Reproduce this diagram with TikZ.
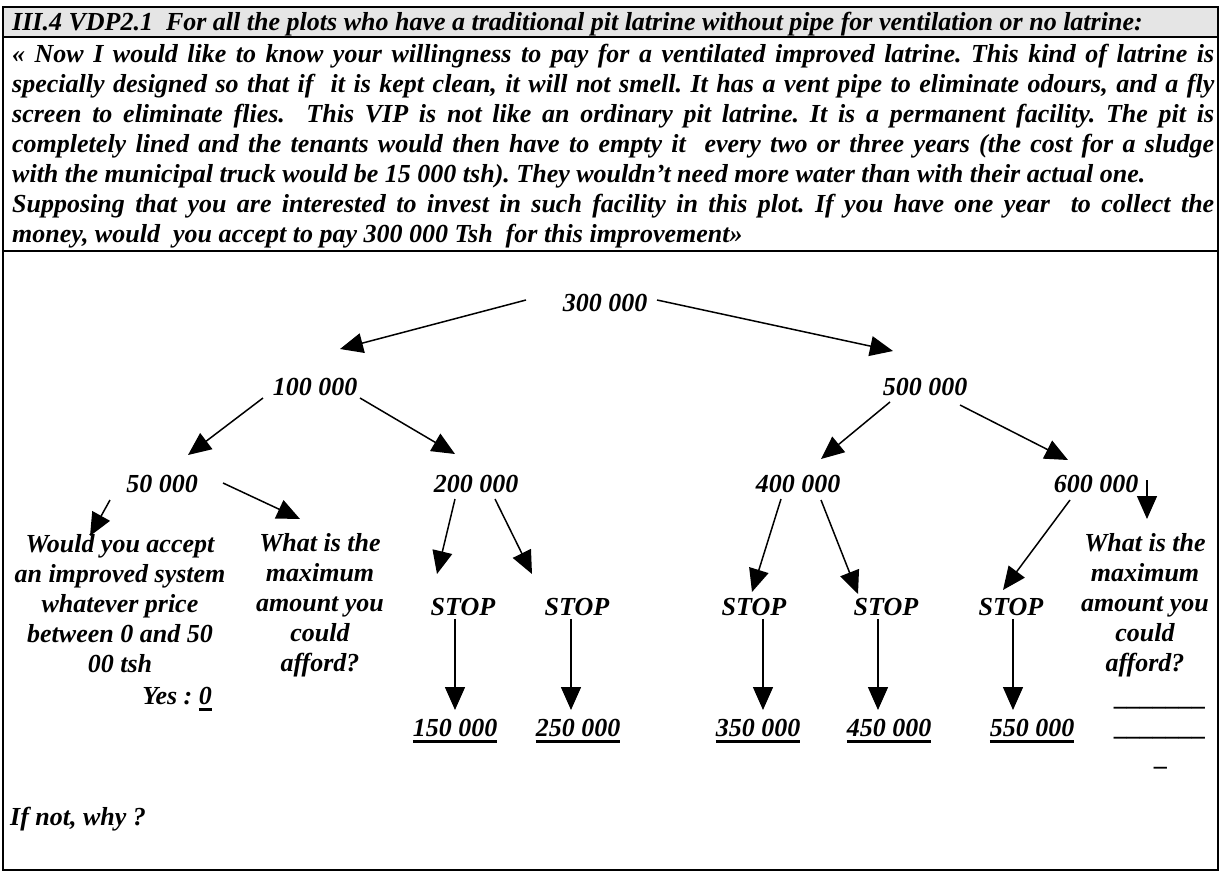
\documentclass[tikz,border=0pt]{standalone}
\usepackage{fontspec}
\setmainfont{Liberation Serif}
\usetikzlibrary{arrows.meta}
\frenchspacing
\newcommand\ulbold[1]{\setbox0\hbox{#1}\rlap{\rule[-7pt]{\wd0}{2.8pt}}\box0}
\begin{document}
\begin{tikzpicture}[x=1pt,y=-1pt,
  font=\fontsize{26}{30}\selectfont\bfseries\itshape,
  hline/.style={anchor=base west,inner sep=0pt},
  lbl/.style={inner sep=0pt,anchor=center},
  blk/.style={inner sep=0pt,anchor=center,align=center},
  arr/.style={line width=1.5pt,-{Triangle[length=23pt,width=20pt]}},
  frame/.style={line width=2pt}]
\useasboundingbox (0,0) rectangle (1221,873);
% header
\fill[black!10] (3,7) rectangle (1218,37);
\draw[frame] (3,7) rectangle (1218,870);
\draw[frame] (3,37) -- (1218,37);
\draw[frame] (3,251) -- (1218,251);
\node[hline] (h0) at (12,30) {III.4 VDP2.1\ \ For all the plots who have a traditional pit latrine without pipe for ventilation or no latrine:};
\node[hline] (h1) at (12,62) {\makebox[1202pt][s]{« Now I would like to know your willingness to pay for a ventilated improved latrine. This kind of latrine is}};
\node[hline] (h2) at (12,92) {\makebox[1202pt][s]{specially designed so that if\ \ it is kept clean, it will not smell. It has a vent pipe to eliminate odours, and a fly}};
\node[hline] (h3) at (12,122) {\makebox[1202pt][s]{screen to eliminate flies.\ \ This VIP is not like an ordinary pit latrine. It is a permanent facility. The pit is}};
\node[hline] (h4) at (12,152) {\makebox[1202pt][s]{completely lined and the tenants would then have to empty it\ \ every two or three years (the cost for a sludge}};
\node[hline] (h5) at (12,182) {with the municipal truck would be 15 000 tsh). They wouldn’t need more water than with their actual one.};
\node[hline] (h6) at (12,212) {\makebox[1202pt][s]{Supposing that you are interested to invest in such facility in this plot. If you have one year\ \ to collect the}};
\node[hline] (h7) at (12,242) {money, would\ \ you accept to pay 300 000 Tsh\ \ for this improvement»};
% tree nodes
\node[lbl] (n300) at (605,303) {300 000};
\node[lbl] (n100) at (315,387) {100 000};
\node[lbl] (n500) at (925,387) {500 000};
\node[lbl] (n50) at (162,484) {50 000};
\node[lbl] (n200) at (476,484) {200 000};
\node[lbl] (n400) at (798,484) {400 000};
\node[lbl] (n600) at (1096,484) {600 000};
\node[blk] (q1) at (120,604) {Would you accept\\an improved system\\whatever price\\between 0 and 50\\00 tsh};
\node[blk] (q2) at (320,605) {What is the\\maximum\\amount you\\could\\afford?};
\node[blk] (q3) at (1145,605) {What is the\\maximum\\amount you\\could\\afford?};
\node[lbl] (s1) at (463,607) {STOP};
\node[lbl] (s2) at (577,607) {STOP};
\node[lbl] (s3) at (754,607) {STOP};
\node[lbl] (s4) at (886,607) {STOP};
\node[lbl] (s5) at (1011,607) {STOP};
\node[inner sep=0pt,anchor=base east] (yes) at (212,704) {Yes : \ulbold{0}};
\node[inner sep=0pt,anchor=base] (v1) at (455,736) {\ulbold{150 000}};
\node[inner sep=0pt,anchor=base] (v2) at (578,736) {\ulbold{250 000}};
\node[inner sep=0pt,anchor=base] (v3) at (758,736) {\ulbold{350 000}};
\node[inner sep=0pt,anchor=base] (v4) at (889,736) {\ulbold{450 000}};
\node[inner sep=0pt,anchor=base] (v5) at (1032,736) {\ulbold{550 000}};
\node[inner sep=0pt,anchor=base] (b1) at (1161,705) {\_\_\_\_\_\_\_};
\node[inner sep=0pt,anchor=base] (b2) at (1161,735) {\_\_\_\_\_\_\_};
\node[inner sep=0pt,anchor=base] (b3) at (1162,765) {\_};
\node[inner sep=0pt,anchor=base west] (why) at (10,825) {If not, why ?};
% connector end points
\coordinate (a1s) at (526,300); \coordinate (a1e) at (340,349);
\coordinate (a2s) at (657,300); \coordinate (a2e) at (893,351);
\coordinate (a3s) at (263,398); \coordinate (a3e) at (188,455);
\coordinate (a4s) at (360,398); \coordinate (a4e) at (455,454);
\coordinate (a5s) at (890,402); \coordinate (a5e) at (821,459);
\coordinate (a6s) at (960,405); \coordinate (a6e) at (1068,460);
\coordinate (a7s) at (110,500); \coordinate (a7e) at (90,536);
\coordinate (a8s) at (223,483); \coordinate (a8e) at (300,519);
\coordinate (a9s) at (455,499); \coordinate (a9e) at (437,574);
\coordinate (a10s) at (495,499); \coordinate (a10e) at (532,574);
\coordinate (a11s) at (781,499); \coordinate (a11e) at (752,592);
\coordinate (a12s) at (821,500); \coordinate (a12e) at (858,594);
\coordinate (a13s) at (1070,500); \coordinate (a13e) at (1003,590);
\coordinate (a14s) at (1147,480); \coordinate (a14e) at (1147,519);
\draw[arr] (a1s) -- (a1e);
\draw[arr] (a2s) -- (a2e);
\draw[arr] (a3s) -- (a3e);
\draw[arr] (a4s) -- (a4e);
\draw[arr] (a5s) -- (a5e);
\draw[arr] (a6s) -- (a6e);
\draw[arr] (a7s) -- (a7e);
\draw[arr] (a8s) -- (a8e);
\draw[arr] (a9s) -- (a9e);
\draw[arr] (a10s) -- (a10e);
\draw[arr] (a11s) -- (a11e);
\draw[arr] (a12s) -- (a12e);
\draw[arr] (a13s) -- (a13e);
\draw[arr] (a14s) -- (a14e);
\foreach \s/\v/\x in {s1/v1/455,s2/v2/571,s3/v3/763,s4/v4/878,s5/v5/1013}{
  \coordinate (tmpx) at (\x,710);
  \draw[arr] ([yshift=-3pt]tmpx |- \s.south) -- (tmpx);
}
\end{tikzpicture}
\end{document}
